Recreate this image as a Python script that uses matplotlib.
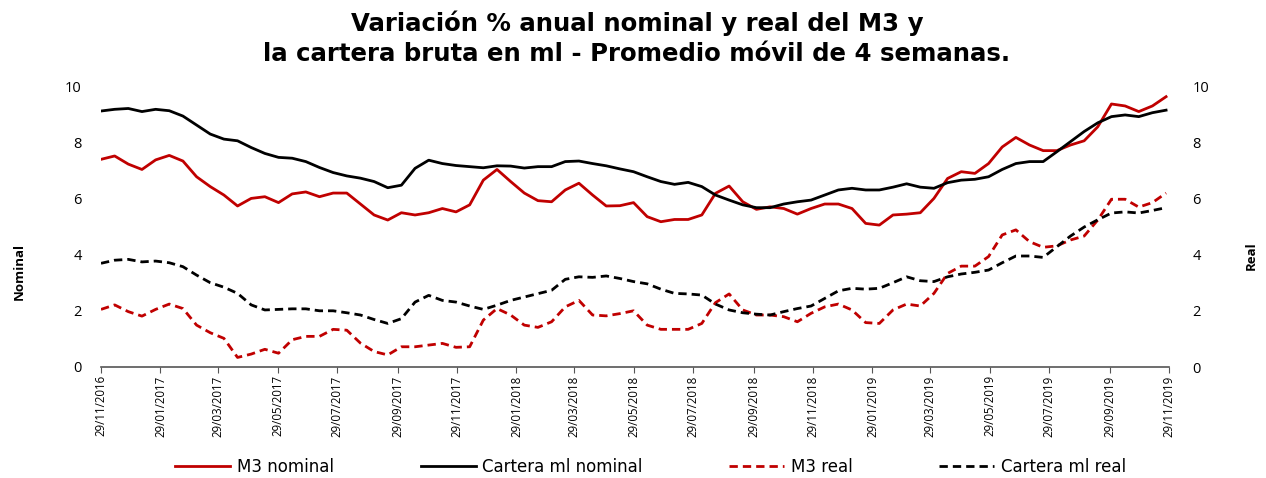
import matplotlib
matplotlib.use("Agg")
import matplotlib.pyplot as plt
import matplotlib.dates as mdates
import pandas as pd

dates = pd.date_range("2016-11-29", periods=79, freq="14D")

m3_nominal = [7.39, 7.51, 7.22, 7.03, 7.37, 7.53, 7.33, 6.77, 6.42, 6.12,
              5.73, 6.00, 6.06, 5.85, 6.16, 6.23, 6.06, 6.19, 6.19, 5.80,
              5.41, 5.23, 5.49, 5.41, 5.49, 5.64, 5.52, 5.77, 6.65, 7.03,
              6.60, 6.19, 5.92, 5.88, 6.30, 6.54, 6.12, 5.73, 5.74, 5.85,
              5.35, 5.17, 5.25, 5.25, 5.41, 6.18, 6.44, 5.88, 5.61, 5.70,
              5.64, 5.44, 5.64, 5.80, 5.80, 5.64, 5.11, 5.05, 5.41, 5.44,
              5.49, 6.00, 6.71, 6.95, 6.89, 7.24, 7.83, 8.17, 7.90, 7.70,
              7.70, 7.90, 8.05, 8.55, 9.36, 9.29, 9.09, 9.29, 9.62]

cartera_nominal = [9.11, 9.17, 9.20, 9.09, 9.17, 9.12, 8.93, 8.61, 8.29, 8.11,
                   8.05, 7.81, 7.60, 7.46, 7.43, 7.31, 7.10, 6.92, 6.80, 6.72,
                   6.60, 6.38, 6.47, 7.07, 7.36, 7.24, 7.17, 7.13, 7.09, 7.16,
                   7.15, 7.08, 7.13, 7.13, 7.31, 7.33, 7.24, 7.16, 7.05, 6.95,
                   6.77, 6.60, 6.50, 6.57, 6.42, 6.12, 5.94, 5.77, 5.67, 5.67,
                   5.80, 5.88, 5.94, 6.12, 6.30, 6.36, 6.30, 6.30, 6.40, 6.52,
                   6.40, 6.36, 6.56, 6.65, 6.68, 6.77, 7.03, 7.24, 7.31, 7.31,
                   7.66, 8.02, 8.38, 8.69, 8.91, 8.97, 8.91, 9.05, 9.14]

m3_real = [2.05, 2.21, 1.97, 1.81, 2.05, 2.24, 2.08, 1.49, 1.22, 1.02,
           0.34, 0.46, 0.63, 0.49, 0.97, 1.09, 1.09, 1.34, 1.31, 0.85,
           0.55, 0.43, 0.72, 0.72, 0.78, 0.84, 0.70, 0.72, 1.67, 2.08,
           1.85, 1.49, 1.41, 1.61, 2.14, 2.37, 1.85, 1.82, 1.90, 2.00,
           1.49, 1.34, 1.34, 1.34, 1.55, 2.29, 2.60, 2.03, 1.85, 1.85,
           1.79, 1.61, 1.91, 2.14, 2.24, 2.03, 1.58, 1.55, 2.03, 2.24,
           2.17, 2.62, 3.33, 3.59, 3.59, 3.93, 4.70, 4.88, 4.46, 4.26,
           4.31, 4.52, 4.66, 5.23, 5.97, 5.97, 5.69, 5.85, 6.19]

cartera_real = [3.69, 3.80, 3.83, 3.74, 3.77, 3.71, 3.57, 3.27, 3.00, 2.84,
                2.62, 2.21, 2.03, 2.05, 2.07, 2.07, 2.00, 2.00, 1.93, 1.85,
                1.69, 1.55, 1.72, 2.31, 2.55, 2.37, 2.31, 2.17, 2.05, 2.20,
                2.37, 2.49, 2.61, 2.73, 3.12, 3.21, 3.19, 3.24, 3.15, 3.04,
                2.96, 2.77, 2.62, 2.60, 2.56, 2.24, 2.03, 1.93, 1.88, 1.85,
                1.97, 2.08, 2.17, 2.44, 2.71, 2.80, 2.77, 2.80, 3.00, 3.21,
                3.07, 3.04, 3.21, 3.31, 3.37, 3.45, 3.71, 3.95, 3.95, 3.90,
                4.28, 4.66, 4.98, 5.24, 5.48, 5.52, 5.48, 5.57, 5.67]

title = "Variación % anual nominal y real del M3 y\nla cartera bruta en ml - Promedio móvil de 4 semanas."
labels = ["M3 nominal", "Cartera ml nominal", "M3 real", "Cartera ml real"]
RED = "#C00000"
FONT = ["Open Sans", "DejaVu Sans"]

plt.rcParams["font.family"] = FONT

fig = plt.figure(figsize=(12.66, 4.78), dpi=100)
ax = fig.add_axes([101/1266, 1-367/478, (1169-101)/1266, (367-86)/478])

lw = 2.0
l1, = ax.plot(dates, m3_nominal, color=RED, lw=lw, label=labels[0])
l2, = ax.plot(dates, cartera_nominal, color="black", lw=lw, label=labels[1])
l3, = ax.plot(dates, m3_real, color=RED, lw=lw, ls=(0, (3, 1.8)), label=labels[2])
l4, = ax.plot(dates, cartera_real, color="black", lw=lw, ls=(0, (3, 1.8)), label=labels[3])

ax.set_xlim(pd.Timestamp("2016-11-29"), pd.Timestamp("2019-11-29"))
ax.set_ylim(0, 10)
ax.set_yticks([0, 2, 4, 6, 8, 10])
ticks = pd.date_range("2016-11-01", "2019-11-01", freq="2MS") + pd.Timedelta(days=28)
ax.set_xticks(ticks)
ax.xaxis.set_major_formatter(mdates.DateFormatter("%d/%m/%Y"))
for lab in ax.get_xticklabels():
    lab.set_rotation(90)
ax.tick_params(axis="x", labelsize=8.3, length=4, direction="out", color="#555555", pad=2)
ax.tick_params(axis="y", labelsize=10.5, length=0, pad=14)
for s in ["top", "left", "right"]:
    ax.spines[s].set_visible(False)
ax.spines["bottom"].set_color("#555555")
ax.spines["bottom"].set_linewidth(1.2)

ax2 = ax.twinx()
ax2.set_ylim(0, 10)
ax2.set_yticks([0, 2, 4, 6, 8, 10])
ax2.tick_params(axis="y", labelsize=10.5, length=0, pad=17)
for s in ["top", "left", "right", "bottom"]:
    ax2.spines[s].set_visible(False)

fig.text(19/1266, 1-271/478, "Nominal", rotation=90, ha="center", va="center",
         fontsize=9.5, fontweight="bold")
fig.text(1251/1266, 1-256/478, "Real", rotation=90, ha="center", va="center",
         fontsize=9.5, fontweight="bold")

fig.text(0.503, 1-38/478, title, ha="center", va="center", fontsize=17.6,
         fontweight="bold", linespacing=1.33, family=["DejaVu Sans"])

fig.legend(handles=[l1, l2, l3, l4], labels=labels, loc="center",
           bbox_to_anchor=(0.514, 1-467/478), ncol=4, frameon=False,
           prop={"family": ["DejaVu Sans"], "size": 12},
           handlelength=3.3, columnspacing=5.2, handletextpad=0.4)

fig.savefig("out.png", dpi=100)
